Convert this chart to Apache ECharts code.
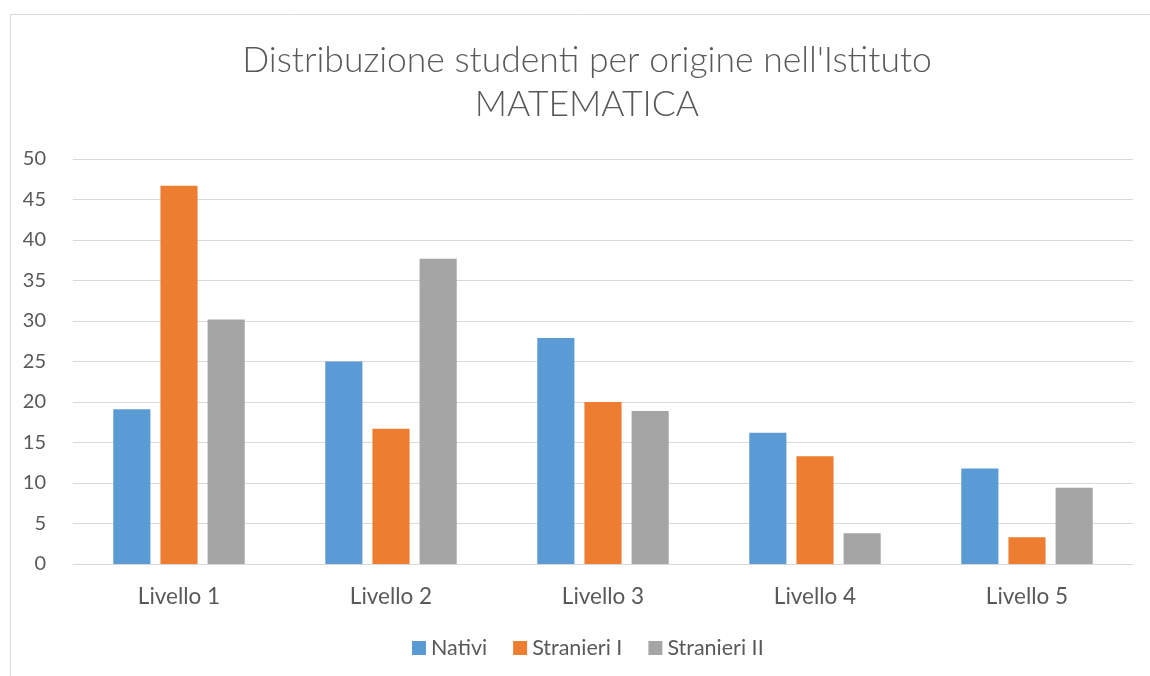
<!DOCTYPE html>
<html><head><meta charset="utf-8">
<script src="https://cdn.jsdelivr.net/npm/echarts@6/dist/echarts.min.js"></script>
<style>html,body{margin:0;padding:0;background:#fff}#c{width:1150px;height:676px}</style>
</head><body><div id="c"></div>
<script>
const categories = ['Livello 1','Livello 2','Livello 3','Livello 4','Livello 5'];
const nativi = [19.1, 25.0, 27.9, 16.2, 11.8];
const stranieriI = [46.7, 16.7, 20.0, 13.3, 3.3];
const stranieriII = [30.2, 37.7, 18.9, 3.8, 9.4];
const seriesNames = ['Nativi','Stranieri I','Stranieri II'];
const colors = ['#5b9bd5','#ed7d31','#a5a5a5'];
const font = 'Lato, Open Sans, sans-serif';
const chart = echarts.init(document.getElementById('c'));
chart.setOption({
  animation:false,
  color: colors,
  graphic:[{type:'rect',shape:{x:10.5,y:14.5,width:1150,height:700},style:{fill:null,stroke:'#d9d9d9',lineWidth:1},silent:true}],
  title:{text:"Distribuzione studenti per origine nell'Istituto\nMATEMATICA",left:582,textAlign:'center',top:34,
    textStyle:{fontFamily:font,fontSize:35.5,fontWeight:300,color:'#595959',lineHeight:44}},
  grid:{left:73,right:17,top:159,bottom:112},
  legend:{bottom:12,left:407,itemWidth:14,itemHeight:14,itemGap:26,icon:'rect',
    textStyle:{fontFamily:font,fontSize:21.5,color:'#595959'},data:seriesNames},
  xAxis:{type:'category',data:categories,axisTick:{show:false},
    axisLine:{lineStyle:{color:'#d9d9d9',width:1}},
    axisLabel:{fontFamily:font,fontSize:22.5,color:'#595959',margin:21}},
  yAxis:{type:'value',min:0,max:50,interval:5,axisLine:{show:false},axisTick:{show:false},
    splitLine:{lineStyle:{color:'#d9d9d9',width:1}},
    axisLabel:{fontFamily:font,fontSize:20,color:'#595959',margin:27}},
  series:[
    {name:seriesNames[0],type:'bar',data:nativi,barGap:'27%',barCategoryGap:'38%'},
    {name:seriesNames[1],type:'bar',data:stranieriI},
    {name:seriesNames[2],type:'bar',data:stranieriII}
  ]
});
</script></body></html>
